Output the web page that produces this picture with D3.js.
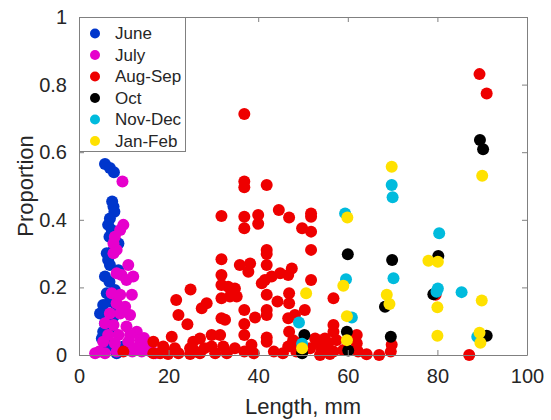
<!DOCTYPE html>
<html lang="en">
<head>
    <meta charset="UTF-8">
    <title>Proportion by length</title>
    <script src="https://d3js.org/d3.v7.min.js"></script>
    <style>
        body { margin: 0; background: #fff; }
        svg { display: block; font-family: "Liberation Sans", Arial, sans-serif; }
    </style>
</head>
<body>
<div id="my_dataviz"></div>
<script>
    // series as [length mm, proportion]
    var june = [
        [5.8,0.565],[6.9,0.553],[7.8,0.541],[7.4,0.454],[7.7,0.439],[7.9,0.424],[6.9,0.404],[6.5,0.385],
        [7.3,0.370],[6.8,0.350],[7.7,0.311],[8.8,0.330],[6.2,0.301],[6.5,0.281],[6.9,0.266],[8.8,0.251],
        [5.8,0.232],[6.8,0.217],[8.0,0.192],[6.2,0.183],[6.9,0.158],[8.4,0.143],[5.4,0.148],[4.7,0.123],
        [7.7,0.113],[5.8,0.094],[7.3,0.074],[5.4,0.069],[5.1,0.049],[6.2,0.035],[7.7,0.025],[9.9,0.025],
        [8.4,0.005]
    ];
    var july = [
        [9.7,0.513],[9.9,0.385],[9.2,0.370],[8.0,0.350],[7.7,0.330],[8.4,0.311],[7.7,0.301],[11.0,0.266],
        [8.4,0.242],[9.5,0.237],[12.1,0.232],[10.6,0.222],[7.3,0.183],[9.2,0.178],[11.8,0.178],[8.4,0.153],
        [10.3,0.143],[6.9,0.123],[9.2,0.123],[11.4,0.118],[5.8,0.094],[7.7,0.089],[10.6,0.084],[12.9,0.069],
        [6.5,0.059],[8.8,0.059],[11.4,0.059],[5.4,0.039],[8.0,0.035],[11.0,0.039],[13.6,0.044],[3.6,0.005],
        [5.8,0.005],[8.4,0.010],[11.9,0.010],[14.0,0.010],[15.0,0.030],[14.5,0.050],[16.0,0.010],[17.0,0.005],
        [4.5,0.010],[12.5,0.020]
    ];
    var augSep = [
        [9.9,0.010],[16.6,0.039],[16.6,0.005],[18.1,0.005],[18.8,0.025],[19.9,0.003],[20.7,0.054],[21.4,0.020],
        [22.2,0.005],[21.7,0.163],[22.2,0.118],[24.2,0.091],[24.9,0.194],[24.8,0.020],[24.8,0.003],[25.5,0.039],
        [27.0,0.049],[27.0,0.005],[27.4,0.138],[28.5,0.153],[29.6,0.059],[29.6,0.025],[30.4,0.005],[31.5,0.059],
        [31.8,0.411],[31.8,0.283],[31.8,0.237],[31.8,0.207],[31.8,0.168],[31.8,0.109],[32.2,0.025],[32.6,0.104],
        [33.3,0.202],[34.8,0.197],[33.7,0.173],[35.2,0.173],[34.8,0.020],[35.9,0.266],[36.9,0.713],[36.9,0.513],
        [36.9,0.496],[36.9,0.409],[36.9,0.375],[36.9,0.133],[36.9,0.092],[36.9,0.059],[36.9,0.010],[37.8,0.246],
        [38.2,0.271],[39.3,0.111],[40.0,0.414],[40.0,0.388],[40.8,0.212],[41.5,0.222],[41.9,0.503],[41.9,0.311],
        [41.9,0.299],[41.9,0.266],[41.9,0.178],[41.9,0.133],[41.9,0.118],[41.9,0.052],[41.9,0.039],[43.0,0.232],
        [44.3,0.158],[44.6,0.429],[44.9,0.242],[46.7,0.237],[46.9,0.407],[46.9,0.183],[46.9,0.153],[46.7,0.109],
        [46.9,0.069],[46.7,0.025],[47.5,0.256],[47.8,0.044],[48.2,0.118],[49.8,0.375],[50.4,0.133],[51.8,0.419],
        [51.8,0.409],[51.8,0.365],[51.8,0.311],[51.8,0.222],[48.5,0.010],[49.0,0.035],[51.6,0.020],[52.7,0.049],
        [53.4,0.035],[53.8,0.000],[54.2,0.015],[54.9,0.049],[55.6,0.035],[56.0,0.003],[56.8,0.168],[56.8,0.089],
        [56.8,0.069],[56.8,0.010],[57.5,0.044],[59.0,0.015],[62.0,0.059],[62.0,0.035],[62.3,0.010],[64.2,0.002],
        [67.0,0.000],[69.8,0.030],[69.6,0.010],[79.6,0.178],[87.1,0.000],[89.4,0.831],[91.0,0.774],[26.0,0.010],
        [28.0,0.020],[33.0,0.005],[39.0,0.005],[43.5,0.010],[45.5,0.005],[38.5,0.030]
    ];
    var oct = [
        [50.3,0.059],[49.8,0.005],[60.0,0.298],[59.8,0.069],[60.1,0.013],[69.9,0.281],[68.3,0.143],[69.6,0.054],
        [80.2,0.293],[79.1,0.180],[89.5,0.636],[90.2,0.609],[91.0,0.057]
    ];
    var novDec = [
        [49.1,0.096],[49.8,0.033],[59.4,0.419],[59.6,0.224],[60.9,0.111],[69.8,0.503],[70.0,0.467],[70.2,0.227],
        [80.4,0.360],[80.1,0.197],[79.8,0.187],[85.4,0.186],[88.9,0.054]
    ];
    var janFeb = [
        [50.7,0.183],[49.8,0.020],[59.9,0.407],[59.0,0.205],[59.8,0.115],[59.8,0.044],[69.8,0.557],[68.7,0.178],
        [69.3,0.151],[78.0,0.279],[80.1,0.276],[80.0,0.141],[80.0,0.057],[90.0,0.530],[89.9,0.161],[89.4,0.066],
        [89.6,0.036]
    ];

    var seriesNames = ["June", "July", "Aug-Sep", "Oct", "Nov-Dec", "Jan-Feb"];
    var seriesData = [june, july, augSep, oct, novDec, janFeb];
    var seriesColors = ["#0036cc", "#e600cc", "#ee0000", "#000000", "#00bbdd", "#ffe100"];

    var xTicks = [0, 20, 40, 60, 80, 100];
    var yTicks = [0, 0.2, 0.4, 0.6, 0.8, 1];
    var yTickLabels = ["0", "0.2", "0.4", "0.6", "0.8", "1"];

    var margin = {top: 17, right: 24, bottom: 65, left: 79},
        width = 551 - margin.left - margin.right,
        height = 420 - margin.top - margin.bottom;

    var svg = d3.select("#my_dataviz")
        .append("svg")
        .attr("width", 551)
        .attr("height", 420)
        .append("g")
        .attr("transform", "translate(" + margin.left + "," + margin.top + ")");

    var x = d3.scaleLinear().domain([0, 100]).range([0, width]);
    var y = d3.scaleLinear().domain([0, 1]).range([height, 0]);

    // points, in legend order so later series sit on top
    seriesData.forEach(function (data, i) {
        svg.append("g")
            .selectAll("circle")
            .data(data)
            .enter()
            .append("circle")
            .attr("cx", function (d) { return x(d[0]); })
            .attr("cy", function (d) { return y(d[1]); })
            .attr("r", 6)
            .style("fill", seriesColors[i]);
    });

    // axes with inward ticks, box on
    var axisColor = "#808080", textColor = "#262626";
    function styleAxis(g) {
        g.selectAll(".domain").attr("stroke", axisColor);
        g.selectAll(".tick line").attr("stroke", axisColor);
        g.selectAll("text").attr("fill", textColor).style("font-size", "20px");
    }

    svg.append("g")
        .attr("transform", "translate(0," + height + ")")
        .call(d3.axisBottom(x).tickValues(xTicks).tickSizeInner(-5).tickSizeOuter(0).tickPadding(14))
        .call(styleAxis);
    svg.append("g")
        .call(d3.axisTop(x).tickValues(xTicks).tickSizeInner(-5).tickSizeOuter(0).tickFormat(""))
        .call(styleAxis);
    svg.append("g")
        .call(d3.axisLeft(y).tickValues(yTicks).tickSizeInner(-5).tickSizeOuter(0).tickPadding(12)
            .tickFormat(function (d, i) { return yTickLabels[i]; }))
        .call(styleAxis);
    svg.append("g")
        .attr("transform", "translate(" + width + ",0)")
        .call(d3.axisRight(y).tickValues(yTicks).tickSizeInner(-5).tickSizeOuter(0).tickFormat(""))
        .call(styleAxis);

    svg.selectAll(".domain").attr("fill", "none");

    // axis labels
    svg.append("text")
        .attr("x", width / 2)
        .attr("y", height + 59)
        .attr("text-anchor", "middle")
        .attr("fill", textColor)
        .style("font-size", "22px")
        .text("Length, mm");

    svg.append("text")
        .attr("transform", "rotate(-90)")
        .attr("x", -height / 2)
        .attr("y", -46)
        .attr("text-anchor", "middle")
        .attr("fill", textColor)
        .style("font-size", "22px")
        .text("Proportion");

    // legend
    var legend = svg.append("g");
    legend.append("rect")
        .attr("x", 0.5)
        .attr("y", 0.5)
        .attr("width", 106)
        .attr("height", 134)
        .attr("fill", "#fff")
        .attr("stroke", axisColor);

    var rows = legend.selectAll("g.row")
        .data(seriesNames)
        .enter()
        .append("g")
        .attr("class", "row")
        .attr("transform", function (d, i) { return "translate(0," + (16.5 + i * 21.5) + ")"; });

    rows.append("circle")
        .attr("cx", 16)
        .attr("cy", 0)
        .attr("r", 5)
        .style("fill", function (d, i) { return seriesColors[i]; });

    rows.append("text")
        .attr("x", 36)
        .attr("y", 0)
        .attr("dy", "0.35em")
        .attr("fill", textColor)
        .style("font-size", "17px")
        .text(function (d) { return d; });
</script>
</body>
</html>
